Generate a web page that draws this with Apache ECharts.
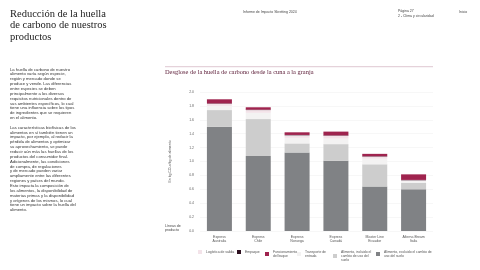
<!DOCTYPE html>
<html lang="es">
<head>
    <meta charset="UTF-8">
    <title>Reducción de la huella de carbono</title>
    <script src="https://cdn.jsdelivr.net/npm/echarts@6/dist/echarts.min.js"></script>
    <style>
        html, body { margin: 0; padding: 0; background: #fff; }
        #chart { width: 480px; height: 270px; }
    </style>
</head>
<body>
<div id="chart"></div>
<script>
    // categorías (líneas de producto)
    const categories = ['Express\nAustralia', 'Express\nChile', 'Express\nNoruega', 'Express\nCanadá', 'Master Line\nEcuador', 'Alterna Bream\nItalia'];

    // valores en kg CO2e/kg de alimento
    const alimentoExcluido = [1.50, 1.08, 1.13, 1.01, 0.64, 0.60];
    const alimentoIncluido = [0.24, 0.53, 0.13, 0.24, 0.32, 0.095];
    const transporteEntrada = [0.06, 0.09, 0.08, 0.08, 0.08, 0.02];
    const logisticaSalida = [0.03, 0.04, 0.037, 0.04, 0.03, 0.015];
    const empaque = [0.005, 0.005, 0.005, 0.005, 0.005, 0.005];
    const funcionamientoBuque = [0.06, 0.035, 0.038, 0.055, 0.035, 0.08];

    const yTicks = [0, 2, 0.2]; // min, max, intervalo

    const seriesDefs = [
        {name: 'Alimento, excluido el cambio de uso del suelo', data: alimentoExcluido, color: '#808285'},
        {name: 'Alimento, incluido el cambio de uso del suelo', data: alimentoIncluido, color: '#cdcdcd'},
        {name: 'Transporte de entrada', data: transporteEntrada, color: '#f3f2f2'},
        {name: 'Logística de salida', data: logisticaSalida, color: '#f3e3e9'},
        {name: 'Empaque', data: empaque, color: '#2e1020'},
        {name: 'Funcionamiento del buque', data: funcionamientoBuque, color: '#9f234e'}
    ];

    // leyenda: nombre de serie, texto mostrado, posición
    const legendItems = [
        ['Logística de salida', 'Logística de salida', 198, 250],
        ['Empaque', 'Empaque', 237, 250],
        ['Funcionamiento del buque', 'Funcionamiento\ndel buque', 265, 250],
        ['Transporte de entrada', 'Transporte de\nentrada', 297, 250],
        ['Alimento, incluido el cambio de uso del suelo', 'Alimento, incluido el\ncambio de uso del\nsuelo', 333, 250],
        ['Alimento, excluido el cambio de uso del suelo', 'Alimento, excluido el cambio de\nuso del suelo', 376, 250]
    ];

    const bodyText = [
        'La huella de carbono de nuestro',
        'alimento varía según especie,',
        'región y mercado donde se',
        'produce y vende. Las diferencias',
        'entre especies se deben',
        'principalmente a los diversos',
        'requisitos nutricionales dentro de',
        'sus ambientes específicos, lo cual',
        'tiene una influencia sobre los tipos',
        'de ingredientes que se requieren',
        'en el alimento.',
        '',
        'Las características biofísicas de los',
        'alimentos en sí también tienen un',
        'impacto, por ejemplo, al reducir la',
        'pérdida de alimentos y optimizar',
        'su aprovechamiento, se puede',
        'reducir aún más las huellas de los',
        'productos del consumidor final.',
        'Adicionalmente, las condiciones',
        'de compra, de regulaciones',
        'y de mercado pueden variar',
        'ampliamente entre las diferentes',
        'regiones y países del mundo.',
        'Esto impacta la composición de',
        'los alimentos, la disponibilidad de',
        'materias primas y la disponibilidad',
        'y orígenes de los mismos, lo cual',
        'tiene un impacto sobre la huella del',
        'alimento.'
    ];

    const chart = echarts.init(document.getElementById('chart'));

    const option = {
        backgroundColor: '#ffffff',
        animation: false,
        grid: {left: 200, right: 47, top: 92, bottom: 39},
        legend: legendItems.map(([name, label, x, y]) => ({
            data: [name],
            left: x,
            top: y,
            padding: 0,
            itemWidth: 4,
            itemHeight: 4,
            itemGap: 2,
            icon: 'rect',
            selectedMode: false,
            formatter: () => label,
            textStyle: {fontSize: 3.4, color: '#555', fontFamily: 'Liberation Sans', lineHeight: 4, padding: [0, 0, 0, -1]}
        })),
        xAxis: {
            type: 'category',
            data: categories,
            axisLine: {show: false},
            axisTick: {show: false},
            axisLabel: {fontSize: 3.5, color: '#555', fontFamily: 'Liberation Sans', lineHeight: 4, margin: 4}
        },
        yAxis: {
            type: 'value',
            min: yTicks[0],
            max: yTicks[1],
            interval: yTicks[2],
            name: 'En kg CO₂e/kg de alimento',
            nameLocation: 'middle',
            nameRotate: 90,
            nameGap: 28,
            nameTextStyle: {fontSize: 3.5, color: '#555', fontFamily: 'Liberation Sans'},
            axisLine: {show: false},
            axisTick: {show: false},
            axisLabel: {fontSize: 3.5, color: '#666', fontFamily: 'Liberation Sans', margin: 6,
                formatter: v => v.toFixed(1)},
            splitLine: {lineStyle: {color: '#eeeeee', width: 0.5}}
        },
        series: seriesDefs.map(s => ({
            name: s.name,
            type: 'bar',
            stack: 'total',
            data: s.data,
            barWidth: 25,
            itemStyle: {color: s.color},
            emphasis: {disabled: true}
        })),
        graphic: [
            {type: 'text', left: 10, top: 8, style: {
                text: 'Reducción de la huella\nde carbono de nuestros\nproductos',
                font: '10.5px "Liberation Serif"', lineHeight: 11.7, fill: '#222'}},
            {type: 'text', left: 10, top: 67, style: {
                text: bodyText.join('\n'),
                font: '4.2px "Liberation Sans"', lineHeight: 4.85, fill: '#333'}},
            {type: 'text', left: 243, top: 9.8, style: {
                text: 'Informe de Impacto Skretting 2024',
                font: '3.5px "Liberation Sans"', fill: '#444'}},
            {type: 'text', left: 398, top: 8.8, style: {
                text: 'Página 27\n2 - Clima y circularidad',
                font: '3.5px "Liberation Sans"', lineHeight: 4.6, fill: '#444'}},
            {type: 'text', left: 459, top: 9.8, style: {
                text: 'Inicio',
                font: '3.5px "Liberation Sans"', fill: '#444'}},
            {type: 'line', shape: {x1: 165, y1: 66.7, x2: 433, y2: 66.7},
                style: {stroke: '#c9a2b2', lineWidth: 0.6}},
            {type: 'text', left: 165, top: 69.5, style: {
                text: 'Desglose de la huella de carbono desde la cuna a la granja',
                font: '6.4px "Liberation Serif"', fill: '#5b1b36'}},
            {type: 'text', left: 165, top: 224, style: {
                text: 'Líneas de\nproducto',
                font: '3.6px "Liberation Sans"', lineHeight: 4.2, fill: '#444'}}
        ]
    };

    chart.setOption(option);
</script>
</body>
</html>
